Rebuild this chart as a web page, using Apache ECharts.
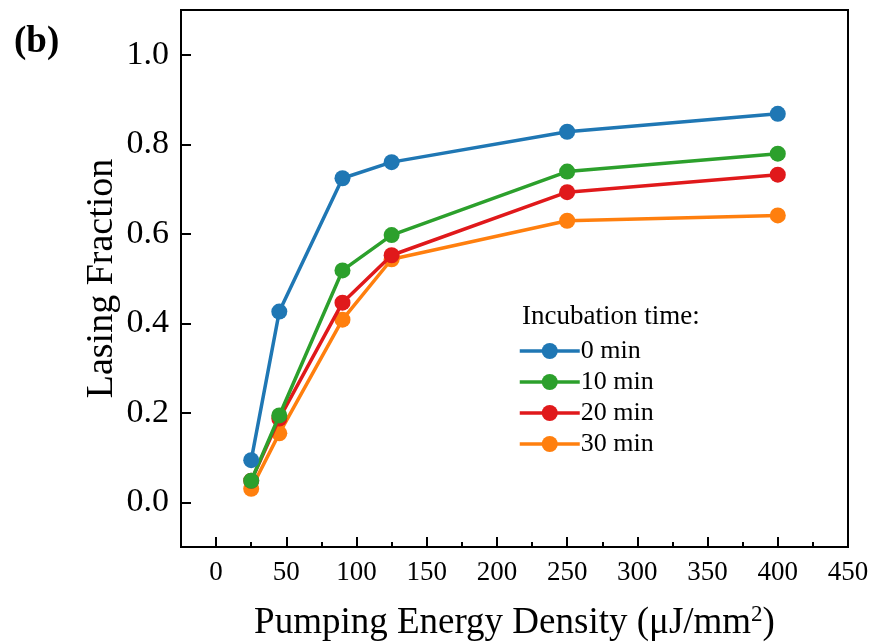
<!DOCTYPE html>
<html>
<head>
<meta charset="utf-8">
<script src="https://cdn.jsdelivr.net/npm/echarts@6/dist/echarts.min.js"></script>
<style>
  html, body { margin: 0; padding: 0; background: #fff; }
  #chart { width: 871px; height: 643px; }
</style>
</head>
<body>
<div id="chart"></div>
<script>
// Pumping energy density (µJ/mm²)
const energy = [25, 45, 90, 125, 250, 400];
// Lasing fraction for each incubation time
const frac0 = [0.094, 0.426, 0.724, 0.760, 0.828, 0.868];
const frac10 = [0.048, 0.194, 0.518, 0.597, 0.739, 0.779];
const frac20 = [0.048, 0.187, 0.446, 0.552, 0.693, 0.732];
const frac30 = [0.030, 0.154, 0.408, 0.543, 0.629, 0.641];
const seriesNames = ['0 min', '10 min', '20 min', '30 min'];
const colors = ['#1f77b4', '#2ca02c', '#e0191b', '#ff7f0e'];
// Tick positions
const xMajorTicks = [0, 50, 100, 150, 200, 250, 300, 350, 400, 450];
const xMinorTicks = [25, 75, 125, 175, 225, 275, 325, 375, 425];
const yTicks = [0, 0.2, 0.4, 0.6, 0.8, 1.0];

const serif = '"Liberation Serif", "DejaVu Serif", serif';
const chart = echarts.init(document.getElementById('chart'), null, { renderer: 'canvas' });

const allData = [frac0, frac10, frac20, frac30];
const series = allData.map((vals, i) => ({
  name: seriesNames[i],
  type: 'line',
  xAxisIndex: 0,
  yAxisIndex: 0,
  data: energy.map((x, j) => [x, vals[j]]),
  symbol: 'circle',
  symbolSize: 16,
  lineStyle: { width: 3.5, color: colors[i] },
  itemStyle: { color: colors[i] },
  z: 10 - i
}));

chart.setOption({
  animation: false,
  backgroundColor: '#fff',
  title: [
    { text: '(b)', left: 9, top: 19, textStyle: { fontFamily: serif, fontSize: 37, fontWeight: 'bold', color: '#000' } },
    { text: 'Incubation time:', left: 517, top: 298, textStyle: { fontFamily: serif, fontSize: 27, fontWeight: 'normal', color: '#000' } }
  ],
  legend: {
    orient: 'vertical',
    left: 513,
    top: 333,
    itemWidth: 60,
    itemHeight: 20,
    itemGap: 5,
    data: seriesNames,
    lineStyle: { width: 3.5 },
    textStyle: { fontFamily: serif, fontSize: 26, color: '#000', padding: [0, 0, 0, -4] }
  },
  grid: {
    left: 181, right: 23, top: 10, bottom: 96,
    outerBoundsMode: 'none',
    show: true, borderColor: '#000', borderWidth: 2, containLabel: false
  },
  xAxis: [{
    type: 'value',
    min: -25, max: 450,
    position: 'bottom',
    name: 'Pumping Energy Density (μJ/mm{sup|2})',
    nameLocation: 'middle',
    nameGap: 56,
    nameMoveOverlap: false,
    nameTextStyle: {
      fontFamily: serif, fontSize: 37, color: '#000',
      rich: { sup: { fontFamily: serif, fontSize: 23, verticalAlign: 'top', padding: [0, 0, 18, 0], color: '#000' } }
    },
    splitLine: { show: false },
    axisLine: { onZero: false, lineStyle: { color: '#000', width: 2 } },
    axisTick: { inside: true, length: 10, lineStyle: { color: '#000', width: 2 }, customValues: xMajorTicks },
    axisLabel: { customValues: xMajorTicks, margin: 12, fontFamily: serif, fontSize: 27, color: '#000' }
  }, {
    type: 'value',
    min: -25, max: 450,
    position: 'bottom',
    gridIndex: 0,
    splitLine: { show: false },
    axisLine: { show: false, onZero: false },
    axisTick: { inside: true, length: 5, lineStyle: { color: '#000', width: 2 }, customValues: xMinorTicks },
    axisLabel: { show: false }
  }],
  yAxis: {
    type: 'value',
    min: -0.1, max: 1.1,
    name: 'Lasing Fraction',
    nameLocation: 'middle',
    nameGap: 60,
    nameRotate: 90,
    nameMoveOverlap: false,
    nameTextStyle: { fontFamily: serif, fontSize: 38, color: '#000' },
    splitLine: { show: false },
    axisLine: { show: true, onZero: false, lineStyle: { color: '#000', width: 2 } },
    axisTick: { show: true, inside: true, length: 10, lineStyle: { color: '#000', width: 2 }, customValues: yTicks },
    axisLabel: {
      customValues: yTicks, margin: 12, fontFamily: serif, fontSize: 34, color: '#000',
      formatter: v => v.toFixed(1)
    }
  },
  series: series
});
</script>
</body>
</html>
